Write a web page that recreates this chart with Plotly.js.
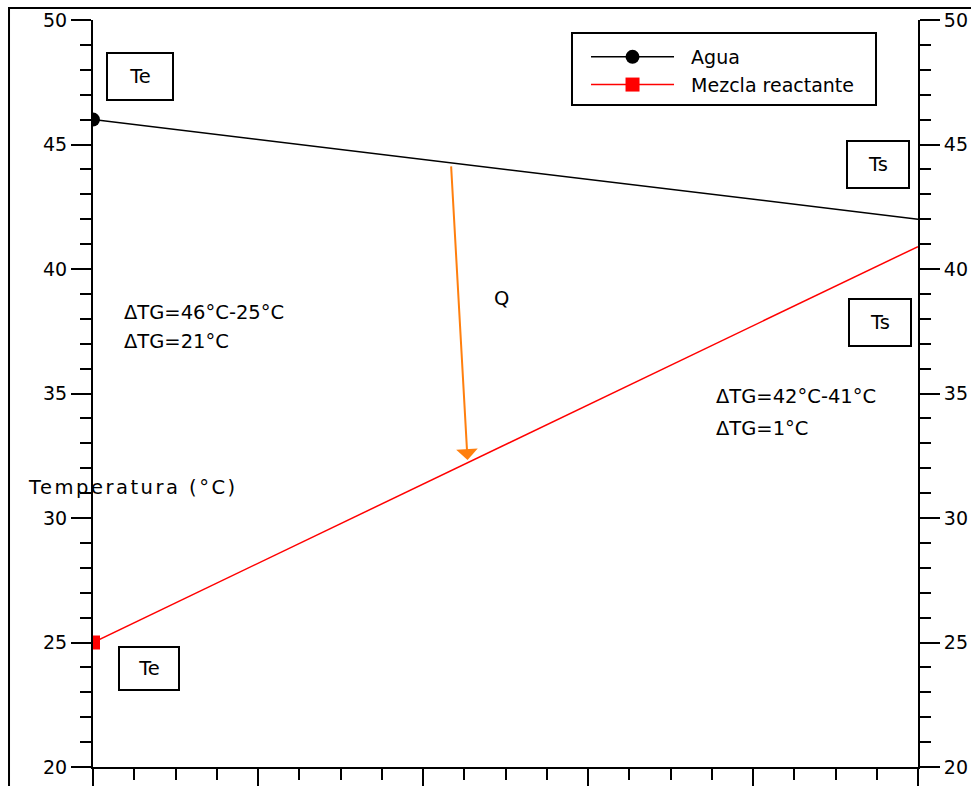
<!DOCTYPE html>
<html>
<head>
<meta charset="utf-8">
<script src="https://cdn.plot.ly/plotly-3.0.1.min.js"></script>
<style>
html,body{margin:0;padding:0;background:#fff;}
#chart{width:971px;height:786px;}
#chart .annotation[data-index="9"] text{letter-spacing:2.5px;}
</style>
</head>
<body>
<div id="chart"></div>
<script>
// Data
const xPositions = [0, 5];
const aguaTemps = [46, 42];
const mezclaTemps = [25, 40.9];
const seriesNames = ['Agua', 'Mezcla reactante'];
const yTickValues = [20, 25, 30, 35, 40, 45, 50];
const FONT = 'DejaVu Sans, Verdana, sans-serif';
const NB = '\u00a0\u00a0';

const traces = [
  {
    x: xPositions, y: aguaTemps, name: NB + seriesNames[0], mode: 'lines+markers',
    line: {color: '#000000', width: 1.5},
    marker: {symbol: 'circle', color: '#000000', size: 14},
    selectedpoints: [0], selected: {marker: {opacity: 1}}, unselected: {marker: {opacity: 0}},
    hoverinfo: 'skip', cliponaxis: true
  },
  {
    x: xPositions, y: mezclaTemps, name: NB + seriesNames[1] + NB, mode: 'lines+markers',
    line: {color: '#ff0000', width: 1.5},
    marker: {symbol: 'square', color: '#ff0000', size: 14},
    selectedpoints: [0], selected: {marker: {opacity: 1}}, unselected: {marker: {opacity: 0}},
    hoverinfo: 'skip', yaxis: 'y2', cliponaxis: true
  }
];

const txtFont = {family: FONT, size: 19.5, color: '#000'};
function box(text, x, y, w, h) {
  return {x: x, y: y, xref: 'x', yref: 'y', text: text, showarrow: false,
    font: txtFont, bordercolor: '#000', borderwidth: 2, borderpad: 0,
    width: w, height: h, bgcolor: 'rgba(0,0,0,0)'};
}
function label(text, x, y, xanchor) {
  return {x: x, y: y, xref: 'x', yref: 'y', text: text, showarrow: false,
    font: txtFont, xanchor: xanchor || 'left', yanchor: 'middle'};
}

const annotations = [
  box('Te', 0.285, 47.73, 64, 45),
  box('Ts', 4.758, 44.20, 60, 45),
  box('Ts', 4.770, 37.85, 60, 45),
  box('Te', 0.339, 23.96, 58, 41),
  label('ΔTG=46°C-25°C', 0.176, 38.27),
  label('ΔTG=21°C', 0.176, 37.07),
  label('ΔTG=42°C-41°C', 3.764, 34.86),
  label('ΔTG=1°C', 3.764, 33.61),
  label('Q', 2.473, 38.80, 'center'),
  {x: -0.0567, y: 31.24, xref: 'paper', yref: 'y', text: 'Temperatura (°C)', showarrow: false,
   font: txtFont, xanchor: 'left', yanchor: 'middle'},
  {x: 2.27, y: 32.33, ax: 2.17, ay: 44.18, xref: 'x', yref: 'y', axref: 'x', ayref: 'y',
   text: '', showarrow: true, arrowhead: 1, arrowsize: 1.8, arrowwidth: 2, arrowcolor: '#ff7f0e', standoff: 0}
];

const yCommon = {
  range: [20, 50], tickvals: yTickValues, ticks: 'outside', ticklen: 20, tickwidth: 2, tickcolor: '#000',
  showline: true, linewidth: 2, linecolor: '#000', showgrid: false, zeroline: false,
  tickfont: {family: FONT, size: 19, color: '#000'},
  minor: {dtick: 1, ticks: 'outside', ticklen: 11, tickwidth: 2, tickcolor: '#000', showgrid: false}
};

const layout = {
  width: 971, height: 786,
  margin: {l: 93, r: 53, t: 20, b: 19},
  paper_bgcolor: '#fff', plot_bgcolor: '#fff',
  showlegend: true,
  legend: {x: 0.5976, y: 0.9759, xanchor: 'left', yanchor: 'top', bgcolor: 'rgba(0,0,0,0)',
    borderwidth: 0, font: {family: FONT, size: 19, color: '#000'}, itemwidth: 83},
  xaxis: {range: [0, 5], dtick: 1, ticks: 'outside', ticklen: 20, tickwidth: 2, tickcolor: '#000',
    showticklabels: false, showline: true, linewidth: 2, linecolor: '#000', showgrid: false, zeroline: false,
    minor: {dtick: 0.25, ticks: 'outside', ticklen: 11, tickwidth: 2, tickcolor: '#000', showgrid: false}},
  yaxis: Object.assign({}, yCommon, {side: 'left'}),
  yaxis2: Object.assign({}, yCommon, {side: 'right', overlaying: 'y'}),
  annotations: annotations,
  shapes: [
    {type: 'rect', xref: 'paper', yref: 'paper', x0: -0.1018, x1: 1.3, y0: -0.2, y1: 1.016,
     line: {color: '#000', width: 2}, fillcolor: 'rgba(0,0,0,0)', layer: 'below'},
    {type: 'rect', xref: 'paper', yref: 'paper', x0: 0.5806, x1: 0.9491, y0: 0.8862, y1: 0.9826,
     line: {color: '#000', width: 2}, fillcolor: '#fff', layer: 'below'}
  ]
};

Plotly.newPlot('chart', traces, layout, {displayModeBar: false, staticPlot: true});
</script>
</body>
</html>
